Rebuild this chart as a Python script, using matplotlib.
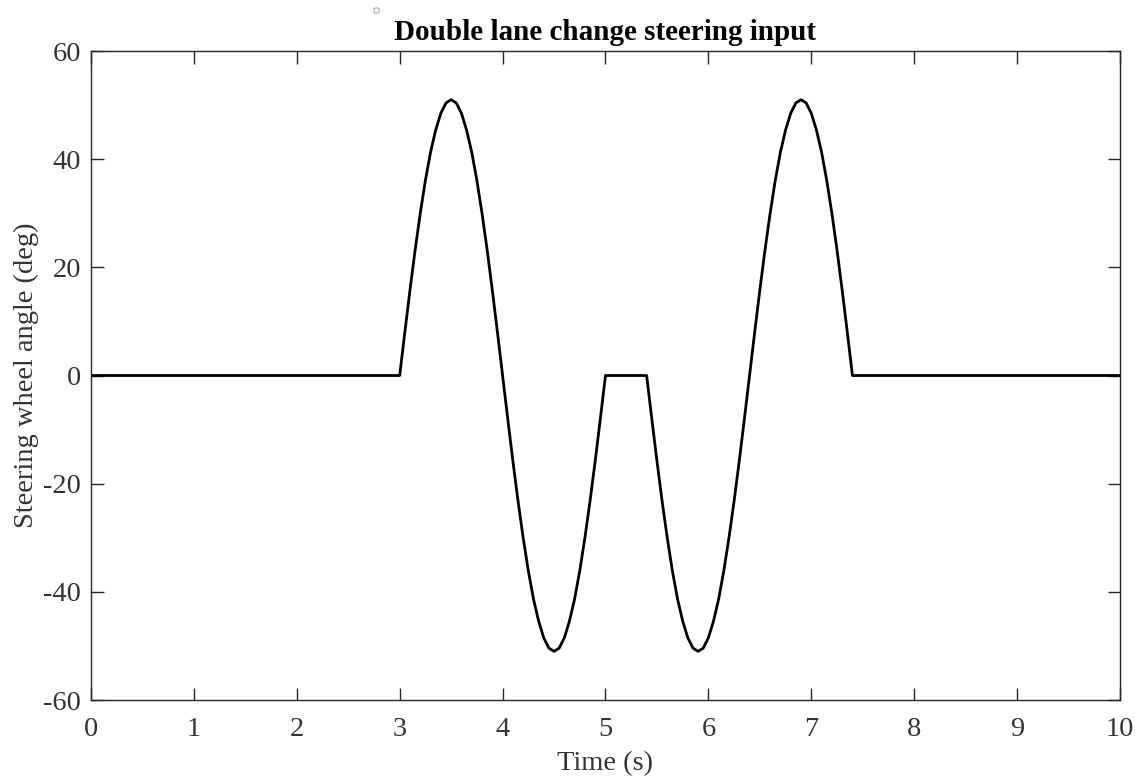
import numpy as np
import matplotlib.pyplot as plt
from matplotlib.lines import Line2D

# steering wheel angle trace, sampled every 0.05 s during the manoeuvre
time_s = [0.0,
          3.00, 3.05, 3.10, 3.15, 3.20, 3.25, 3.30, 3.35, 3.40, 3.45,
          3.50, 3.55, 3.60, 3.65, 3.70, 3.75, 3.80, 3.85, 3.90, 3.95,
          4.00, 4.05, 4.10, 4.15, 4.20, 4.25, 4.30, 4.35, 4.40, 4.45,
          4.50, 4.55, 4.60, 4.65, 4.70, 4.75, 4.80, 4.85, 4.90, 4.95,
          5.00,
          5.40, 5.45, 5.50, 5.55, 5.60, 5.65, 5.70, 5.75, 5.80, 5.85,
          5.90, 5.95, 6.00, 6.05, 6.10, 6.15, 6.20, 6.25, 6.30, 6.35,
          6.40, 6.45, 6.50, 6.55, 6.60, 6.65, 6.70, 6.75, 6.80, 6.85,
          6.90, 6.95, 7.00, 7.05, 7.10, 7.15, 7.20, 7.25, 7.30, 7.35,
          7.40,
          10.0]

angle_deg = [0.0,
             0.0, 8.0, 15.8, 23.2, 30.0, 36.1, 41.3, 45.4, 48.5, 50.4,
             51.0, 50.4, 48.5, 45.4, 41.3, 36.1, 30.0, 23.2, 15.8, 8.0,
             0.0, -8.0, -15.8, -23.2, -30.0, -36.1, -41.3, -45.4, -48.5, -50.4,
             -51.0, -50.4, -48.5, -45.4, -41.3, -36.1, -30.0, -23.2, -15.8, -8.0,
             0.0,
             0.0, -8.0, -15.8, -23.2, -30.0, -36.1, -41.3, -45.4, -48.5, -50.4,
             -51.0, -50.4, -48.5, -45.4, -41.3, -36.1, -30.0, -23.2, -15.8, -8.0,
             0.0, 8.0, 15.8, 23.2, 30.0, 36.1, 41.3, 45.4, 48.5, 50.4,
             51.0, 50.4, 48.5, 45.4, 41.3, 36.1, 30.0, 23.2, 15.8, 8.0,
             0.0,
             0.0]

x_ticks = [0, 1, 2, 3, 4, 5, 6, 7, 8, 9, 10]
y_ticks = [-60, -40, -20, 0, 20, 40, 60]

plt.rcParams['font.family'] = ['Liberation Serif', 'DejaVu Serif']
plt.rcParams['axes.unicode_minus'] = False

ax_col = '#262626'
txt_col = '#333333'

fig = plt.figure(figsize=(11.46, 7.79), dpi=100)
ax = fig.add_axes([0.0794, 0.1014, 0.8979, 0.8331])

ax.plot(time_s, angle_deg, color='black', linewidth=2.0,
        solid_joinstyle='round')

ax.set_xlim(0, 10)
ax.set_ylim(-60, 60)
ax.set_xticks(x_ticks)
ax.set_yticks(y_ticks)
ax.tick_params(direction='in', length=9, width=1.0, colors=ax_col,
               labelsize=20.5, top=True, right=True)
ax.tick_params(axis='x', labelcolor=txt_col, pad=12)
ax.tick_params(axis='y', labelcolor=txt_col, pad=7)
for sp in ax.spines.values():
    sp.set_color(ax_col)
    sp.set_linewidth(1.0)

ax.set_xlabel('Time (s)', fontsize=20.5, color=txt_col, labelpad=7)
ax.set_ylabel('Steering wheel angle (deg)', fontsize=20.5, color=txt_col,
              labelpad=3)
ax.set_title('Double lane change steering input', fontsize=21,
             fontweight='bold', pad=8)

# stray marker above the axes
fig.add_artist(Line2D([376 / 1146], [1 - 10 / 779], transform=fig.transFigure,
                      marker='o', markersize=4, markerfacecolor='none',
                      markeredgecolor='#aaaaaa', markeredgewidth=0.8,
                      linestyle='none'))

fig.savefig('out.png', dpi=100)
